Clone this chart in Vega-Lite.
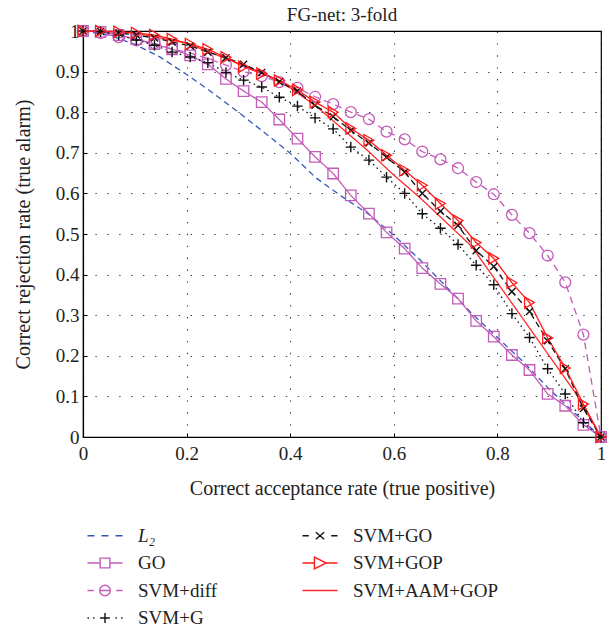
{
  "$schema": "https://vega.github.io/schema/vega-lite/v6.json",
  "width": 518,
  "height": 406,
  "autosize": {"type": "none"},
  "padding": {"left": 83, "top": 31, "right": 14, "bottom": 190},
  "background": "white",
  "title": {"text": "FG-net: 3-fold", "font": "Liberation Serif", "fontSize": 19, "fontWeight": "normal", "color": "#222", "offset": -3},
  "config": {
    "view": {"stroke": "black", "strokeWidth": 1.2},
    "axis": {
      "labelFont": "Liberation Serif", "labelFontSize": 19, "labelColor": "#222",
      "titleFont": "Liberation Serif", "titleFontSize": 20, "titleFontWeight": "normal", "titleColor": "#222",
      "domainColor": "black", "domainWidth": 1.2,
      "tickColor": "black", "tickSize": -4, "tickWidth": 1,
      "gridColor": "black", "gridOpacity": 0.75, "gridWidth": 1.1, "gridDash": [1.4, 10.5],
      "labelFlush": false
    }
  },
  "datasets": {
    "curves": [
      {"series":"L₂","x":0,"y":1},{"series":"L₂","x":0.05,"y":0.99},{"series":"L₂","x":0.1,"y":0.967},{"series":"L₂","x":0.15,"y":0.935},{"series":"L₂","x":0.2,"y":0.893},{"series":"L₂","x":0.25,"y":0.848},{"series":"L₂","x":0.3,"y":0.8},{"series":"L₂","x":0.35,"y":0.75},{"series":"L₂","x":0.4,"y":0.699},{"series":"L₂","x":0.45,"y":0.638},{"series":"L₂","x":0.5,"y":0.592},{"series":"L₂","x":0.55,"y":0.55},{"series":"L₂","x":0.6,"y":0.497},{"series":"L₂","x":0.65,"y":0.437},{"series":"L₂","x":0.7,"y":0.372},{"series":"L₂","x":0.75,"y":0.305},{"series":"L₂","x":0.8,"y":0.245},{"series":"L₂","x":0.85,"y":0.185},{"series":"L₂","x":0.9,"y":0.118},{"series":"L₂","x":0.95,"y":0.058},{"series":"L₂","x":1,"y":0},

      {"series":"SVM+AAM+GOP","x":0,"y":1},{"series":"SVM+AAM+GOP","x":0.1,"y":0.995},{"series":"SVM+AAM+GOP","x":0.2,"y":0.97},{"series":"SVM+AAM+GOP","x":0.3,"y":0.92},{"series":"SVM+AAM+GOP","x":0.35,"y":0.895},{"series":"SVM+AAM+GOP","x":0.4,"y":0.86},{"series":"SVM+AAM+GOP","x":0.45,"y":0.815},{"series":"SVM+AAM+GOP","x":0.5,"y":0.76},{"series":"SVM+AAM+GOP","x":0.55,"y":0.705},{"series":"SVM+AAM+GOP","x":0.6,"y":0.645},{"series":"SVM+AAM+GOP","x":0.65,"y":0.59},{"series":"SVM+AAM+GOP","x":0.7,"y":0.53},{"series":"SVM+AAM+GOP","x":0.75,"y":0.47},{"series":"SVM+AAM+GOP","x":0.8,"y":0.38},{"series":"SVM+AAM+GOP","x":0.85,"y":0.29},{"series":"SVM+AAM+GOP","x":0.9,"y":0.2},{"series":"SVM+AAM+GOP","x":0.95,"y":0.11},{"series":"SVM+AAM+GOP","x":1,"y":0},

      {"series":"GO","x":0,"y":1},{"series":"GO","x":0.034,"y":0.998},{"series":"GO","x":0.069,"y":0.99},{"series":"GO","x":0.103,"y":0.98},{"series":"GO","x":0.138,"y":0.968},{"series":"GO","x":0.172,"y":0.955},{"series":"GO","x":0.207,"y":0.94},{"series":"GO","x":0.241,"y":0.918},{"series":"GO","x":0.276,"y":0.882},{"series":"GO","x":0.31,"y":0.852},{"series":"GO","x":0.345,"y":0.825},{"series":"GO","x":0.379,"y":0.782},{"series":"GO","x":0.414,"y":0.735},{"series":"GO","x":0.448,"y":0.69},{"series":"GO","x":0.483,"y":0.649},{"series":"GO","x":0.517,"y":0.595},{"series":"GO","x":0.552,"y":0.55},{"series":"GO","x":0.586,"y":0.504},{"series":"GO","x":0.621,"y":0.464},{"series":"GO","x":0.655,"y":0.416},{"series":"GO","x":0.69,"y":0.377},{"series":"GO","x":0.724,"y":0.341},{"series":"GO","x":0.759,"y":0.286},{"series":"GO","x":0.793,"y":0.247},{"series":"GO","x":0.828,"y":0.202},{"series":"GO","x":0.862,"y":0.165},{"series":"GO","x":0.897,"y":0.106},{"series":"GO","x":0.931,"y":0.077},{"series":"GO","x":0.966,"y":0.03},{"series":"GO","x":1,"y":0},

      {"series":"SVM+diff","x":0,"y":1},{"series":"SVM+diff","x":0.034,"y":0.995},{"series":"SVM+diff","x":0.069,"y":0.985},{"series":"SVM+diff","x":0.103,"y":0.977},{"series":"SVM+diff","x":0.138,"y":0.97},{"series":"SVM+diff","x":0.172,"y":0.955},{"series":"SVM+diff","x":0.207,"y":0.946},{"series":"SVM+diff","x":0.241,"y":0.932},{"series":"SVM+diff","x":0.276,"y":0.916},{"series":"SVM+diff","x":0.31,"y":0.9},{"series":"SVM+diff","x":0.345,"y":0.889},{"series":"SVM+diff","x":0.379,"y":0.874},{"series":"SVM+diff","x":0.414,"y":0.86},{"series":"SVM+diff","x":0.448,"y":0.838},{"series":"SVM+diff","x":0.483,"y":0.82},{"series":"SVM+diff","x":0.517,"y":0.8},{"series":"SVM+diff","x":0.552,"y":0.783},{"series":"SVM+diff","x":0.586,"y":0.752},{"series":"SVM+diff","x":0.621,"y":0.733},{"series":"SVM+diff","x":0.655,"y":0.703},{"series":"SVM+diff","x":0.69,"y":0.684},{"series":"SVM+diff","x":0.724,"y":0.662},{"series":"SVM+diff","x":0.759,"y":0.628},{"series":"SVM+diff","x":0.793,"y":0.598},{"series":"SVM+diff","x":0.828,"y":0.547},{"series":"SVM+diff","x":0.862,"y":0.502},{"series":"SVM+diff","x":0.897,"y":0.447},{"series":"SVM+diff","x":0.931,"y":0.381},{"series":"SVM+diff","x":0.966,"y":0.252},{"series":"SVM+diff","x":1,"y":0},

      {"series":"SVM+G","x":0,"y":1},{"series":"SVM+G","x":0.034,"y":0.998},{"series":"SVM+G","x":0.069,"y":0.99},{"series":"SVM+G","x":0.103,"y":0.978},{"series":"SVM+G","x":0.138,"y":0.965},{"series":"SVM+G","x":0.172,"y":0.948},{"series":"SVM+G","x":0.207,"y":0.936},{"series":"SVM+G","x":0.241,"y":0.922},{"series":"SVM+G","x":0.276,"y":0.898},{"series":"SVM+G","x":0.31,"y":0.879},{"series":"SVM+G","x":0.345,"y":0.862},{"series":"SVM+G","x":0.379,"y":0.837},{"series":"SVM+G","x":0.414,"y":0.815},{"series":"SVM+G","x":0.448,"y":0.786},{"series":"SVM+G","x":0.483,"y":0.759},{"series":"SVM+G","x":0.517,"y":0.714},{"series":"SVM+G","x":0.552,"y":0.682},{"series":"SVM+G","x":0.586,"y":0.64},{"series":"SVM+G","x":0.621,"y":0.6},{"series":"SVM+G","x":0.655,"y":0.55},{"series":"SVM+G","x":0.69,"y":0.514},{"series":"SVM+G","x":0.724,"y":0.474},{"series":"SVM+G","x":0.759,"y":0.423},{"series":"SVM+G","x":0.793,"y":0.375},{"series":"SVM+G","x":0.828,"y":0.304},{"series":"SVM+G","x":0.862,"y":0.245},{"series":"SVM+G","x":0.897,"y":0.168},{"series":"SVM+G","x":0.931,"y":0.106},{"series":"SVM+G","x":0.966,"y":0.035},{"series":"SVM+G","x":1,"y":0},

      {"series":"SVM+GO","x":0,"y":1},{"series":"SVM+GO","x":0.034,"y":0.999},{"series":"SVM+GO","x":0.069,"y":0.995},{"series":"SVM+GO","x":0.103,"y":0.99},{"series":"SVM+GO","x":0.138,"y":0.983},{"series":"SVM+GO","x":0.172,"y":0.973},{"series":"SVM+GO","x":0.207,"y":0.963},{"series":"SVM+GO","x":0.241,"y":0.948},{"series":"SVM+GO","x":0.276,"y":0.934},{"series":"SVM+GO","x":0.31,"y":0.918},{"series":"SVM+GO","x":0.345,"y":0.898},{"series":"SVM+GO","x":0.379,"y":0.875},{"series":"SVM+GO","x":0.414,"y":0.852},{"series":"SVM+GO","x":0.448,"y":0.817},{"series":"SVM+GO","x":0.483,"y":0.789},{"series":"SVM+GO","x":0.517,"y":0.755},{"series":"SVM+GO","x":0.552,"y":0.724},{"series":"SVM+GO","x":0.586,"y":0.689},{"series":"SVM+GO","x":0.621,"y":0.652},{"series":"SVM+GO","x":0.655,"y":0.6},{"series":"SVM+GO","x":0.69,"y":0.556},{"series":"SVM+GO","x":0.724,"y":0.521},{"series":"SVM+GO","x":0.759,"y":0.459},{"series":"SVM+GO","x":0.793,"y":0.42},{"series":"SVM+GO","x":0.828,"y":0.358},{"series":"SVM+GO","x":0.862,"y":0.309},{"series":"SVM+GO","x":0.897,"y":0.237},{"series":"SVM+GO","x":0.931,"y":0.168},{"series":"SVM+GO","x":0.966,"y":0.07},{"series":"SVM+GO","x":1,"y":0},

      {"series":"SVM+GOP","x":0,"y":1},{"series":"SVM+GOP","x":0.034,"y":1},{"series":"SVM+GOP","x":0.069,"y":0.998},{"series":"SVM+GOP","x":0.103,"y":0.995},{"series":"SVM+GOP","x":0.138,"y":0.99},{"series":"SVM+GOP","x":0.172,"y":0.98},{"series":"SVM+GOP","x":0.207,"y":0.968},{"series":"SVM+GOP","x":0.241,"y":0.955},{"series":"SVM+GOP","x":0.276,"y":0.935},{"series":"SVM+GOP","x":0.31,"y":0.912},{"series":"SVM+GOP","x":0.345,"y":0.895},{"series":"SVM+GOP","x":0.379,"y":0.878},{"series":"SVM+GOP","x":0.414,"y":0.855},{"series":"SVM+GOP","x":0.448,"y":0.825},{"series":"SVM+GOP","x":0.483,"y":0.8},{"series":"SVM+GOP","x":0.517,"y":0.76},{"series":"SVM+GOP","x":0.552,"y":0.731},{"series":"SVM+GOP","x":0.586,"y":0.694},{"series":"SVM+GOP","x":0.621,"y":0.657},{"series":"SVM+GOP","x":0.655,"y":0.62},{"series":"SVM+GOP","x":0.69,"y":0.575},{"series":"SVM+GOP","x":0.724,"y":0.533},{"series":"SVM+GOP","x":0.759,"y":0.479},{"series":"SVM+GOP","x":0.793,"y":0.44},{"series":"SVM+GOP","x":0.828,"y":0.38},{"series":"SVM+GOP","x":0.862,"y":0.331},{"series":"SVM+GOP","x":0.897,"y":0.244},{"series":"SVM+GOP","x":0.931,"y":0.17},{"series":"SVM+GOP","x":0.966,"y":0.081},{"series":"SVM+GOP","x":1,"y":0}
    ]
  },
  "data": {"name": "curves"},
  "encoding": {
    "x": {"field": "x", "type": "quantitative", "scale": {"domain": [0, 1], "nice": false},
      "axis": {"title": "Correct acceptance rate (true positive)", "values": [0, 0.2, 0.4, 0.6, 0.8, 1], "format": ".1~f", "labelPadding": 11, "titlePadding": 15}},
    "y": {"field": "y", "type": "quantitative", "scale": {"domain": [0, 1], "nice": false},
      "axis": {"title": "Correct rejection rate (true alarm)", "values": [0, 0.1, 0.2, 0.3, 0.4, 0.5, 0.6, 0.7, 0.8, 0.9, 1], "format": ".1~f", "labelPadding": 8, "titlePadding": 22}}
  },
  "layer": [
    {
      "mark": {"type": "line", "strokeWidth": 1.3},
      "encoding": {
        "color": {
          "field": "series", "type": "nominal",
          "scale": {"domain": ["L₂", "GO", "SVM+diff", "SVM+G", "SVM+GO", "SVM+GOP", "SVM+AAM+GOP"],
                    "range": ["#3557b8", "#c35bb8", "#c35bb8", "#111111", "#111111", "#ff1a1a", "#ff2a2a"]},
          "legend": {
            "title": null, "orient": "none", "legendX": 23, "legendY": 495, "direction": "vertical", "columns": 2, "columnPadding": 82, "rowPadding": 7.5,
            "symbolSize": 196, "symbolStrokeWidth": 1.4, "symbolFillColor": "transparent", "labelOffset": 13,
            "labelFont": "Liberation Serif", "labelFontSize": 19, "labelColor": "#222", "labelLimit": 300,
            "encode": {
              "labels": {"update": {"fontStyle": {"signal": "datum.value === 'L₂' ? 'italic' : 'normal'"}}},
              "symbols": {"update": {
                "fill": {"value": "transparent"},
                "strokeWidth": {"value": 1.4},
                "opacity": {"value": 1},
                "shape": {"signal": "datum.value === 'L₂' ? 'M-4,0H-3M-2,0H-1M0,0H1' : datum.value === 'SVM+GO' ? 'M-4,0H-3.1M-2.1,-0.5L-0.9,0.5M-2.1,0.5L-0.9,-0.5M0.1,0H1' : datum.value === 'GO' ? 'M-4,0H-2.2M-0.8,0H1M-2.2,-0.7H-0.8V0.7H-2.2Z' : datum.value === 'SVM+GOP' ? 'M-4,0H-2.3M-0.6,0H1M-2.3,-0.85L-0.6,0L-2.3,0.85Z' : datum.value === 'SVM+diff' ? 'M-4,0H-3.1M-2.25,0H-0.75M0.1,0H1M-0.75,0A0.75,0.75 0 1,0 -2.25,0A0.75,0.75 0 1,0 -0.75,0' : datum.value === 'SVM+G' ? 'M-4,0H-3.8M-3.2,0H-3M-2.2,0H-0.8M-1.5,-0.7V0.7M0,0H0.2M0.8,0H1' : 'M-4,0H1'"}
              }}
            }
          }
        },
        "strokeDash": {"field": "series", "type": "nominal", "legend": null,
          "scale": {"domain": ["GO", "L₂", "SVM+AAM+GOP", "SVM+G", "SVM+GO", "SVM+GOP", "SVM+diff"],
                    "range": [[1, 0], [6, 4], [1, 0], [1.5, 3.5], [6, 4], [1, 0], [7, 5]]}}
      }
    },
    {
      "transform": [{"filter": "datum.series === 'GO'"}],
      "mark": {"type": "point", "shape": "square", "filled": false, "size": 110, "strokeWidth": 1.3, "color": "#c35bb8", "opacity": 1}
    },
    {
      "transform": [{"filter": "datum.series === 'SVM+diff'"}],
      "mark": {"type": "point", "shape": "circle", "filled": false, "size": 120, "strokeWidth": 1.3, "color": "#c35bb8", "opacity": 1}
    },
    {
      "transform": [{"filter": "datum.series === 'SVM+G'"}],
      "mark": {"type": "point", "shape": "M-1,0H1M0,-1V1", "filled": false, "size": 110, "strokeWidth": 1.4, "color": "#111111", "opacity": 1}
    },
    {
      "transform": [{"filter": "datum.series === 'SVM+GO'"}],
      "mark": {"type": "point", "shape": "M-1,-1L1,1M-1,1L1,-1", "filled": false, "size": 50, "strokeWidth": 1.4, "color": "#111111", "opacity": 1}
    },
    {
      "transform": [{"filter": "datum.series === 'SVM+GOP'"}],
      "mark": {"type": "point", "shape": "triangle-right", "filled": false, "size": 130, "strokeWidth": 1.3, "color": "#ff1a1a", "opacity": 1}
    }
  ]
}
